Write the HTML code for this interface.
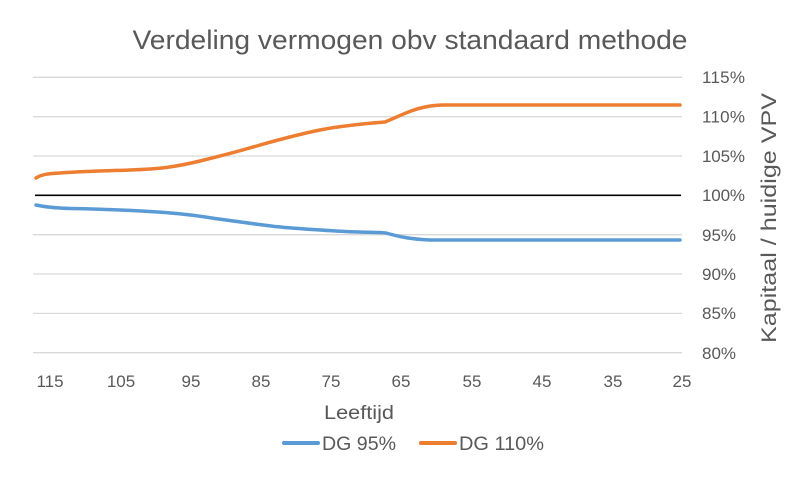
<!DOCTYPE html>
<html><head><meta charset="utf-8"><style>html,body{margin:0;padding:0;background:#fff}svg{display:block}</style></head>
<body>
<svg width="800" height="478" viewBox="0 0 800 478" xmlns="http://www.w3.org/2000/svg" font-family="Liberation Sans, sans-serif" fill="#595959">
<text x="410" y="49" font-size="27" text-anchor="middle" textLength="555" lengthAdjust="spacingAndGlyphs">Verdeling vermogen obv standaard methode</text>
<g stroke="#d9d9d9" stroke-width="1.3">
<line x1="33" x2="682" y1="77.3" y2="77.3"/>
<line x1="33" x2="682" y1="116.7" y2="116.7"/>
<line x1="33" x2="682" y1="156" y2="156"/>
<line x1="33" x2="682" y1="234.7" y2="234.7"/>
<line x1="33" x2="682" y1="274" y2="274"/>
<line x1="33" x2="682" y1="313.4" y2="313.4"/>
<line x1="33" x2="682" y1="352.7" y2="352.7"/>
</g>
<line x1="35" x2="681" y1="195.3" y2="195.3" stroke="#000" stroke-width="1.6"/>
<g font-size="17" lengthAdjust="spacingAndGlyphs">
<text x="702" y="83" textLength="43">115%</text>
<text x="702" y="122.5" textLength="43">110%</text>
<text x="702" y="162" textLength="43">105%</text>
<text x="702" y="201" textLength="43">100%</text>
<text x="702" y="241" textLength="34">95%</text>
<text x="702" y="280" textLength="34">90%</text>
<text x="702" y="319" textLength="34">85%</text>
<text x="702" y="359" textLength="34">80%</text>
</g>
<g font-size="17" text-anchor="middle">
<text x="50" y="387">115</text>
<text x="121" y="387">105</text>
<text x="191" y="387">95</text>
<text x="261" y="387">85</text>
<text x="331" y="387">75</text>
<text x="401" y="387">65</text>
<text x="472" y="387">55</text>
<text x="542" y="387">45</text>
<text x="613" y="387">35</text>
<text x="682" y="387">25</text>
</g>
<text x="359" y="419" font-size="19" text-anchor="middle" textLength="70" lengthAdjust="spacingAndGlyphs">Leeftijd</text>
<text transform="translate(776,218) rotate(-90)" font-size="21" text-anchor="middle" textLength="250" lengthAdjust="spacingAndGlyphs">Kapitaal / huidige VPV</text>
<path d="M36,178 C42,174 50,173.5 60,173 C80,171.5 100,171 130,170 C160,169 175,167 200,161 C225,155 240,151 260,145 C285,138 300,134 320,130 C340,126 360,124 385,122 C400,116 410,110 425,107 C432,105.5 437,105 445,105 L680,105" fill="none" stroke="#ED7D31" stroke-width="3.5" stroke-linecap="round"/>
<path d="M36,205 C45,207 55,208 70,208.5 C100,209 130,210 165,212.5 C190,214.5 200,216 215,218.5 C240,222 255,224 275,226.5 C300,229 320,230 345,231.5 C365,232.5 378,232 386,233 C400,237 410,239 430,240 L680,240" fill="none" stroke="#5B9BD5" stroke-width="3.5" stroke-linecap="round"/>
<line x1="284" x2="318" y1="443" y2="443" stroke="#5B9BD5" stroke-width="4" stroke-linecap="round"/>
<text x="322" y="450" font-size="19" textLength="74" lengthAdjust="spacingAndGlyphs">DG 95%</text>
<line x1="421" x2="455" y1="443" y2="443" stroke="#ED7D31" stroke-width="4" stroke-linecap="round"/>
<text x="459" y="450" font-size="19" textLength="85" lengthAdjust="spacingAndGlyphs">DG 110%</text>
</svg>
</body></html>
